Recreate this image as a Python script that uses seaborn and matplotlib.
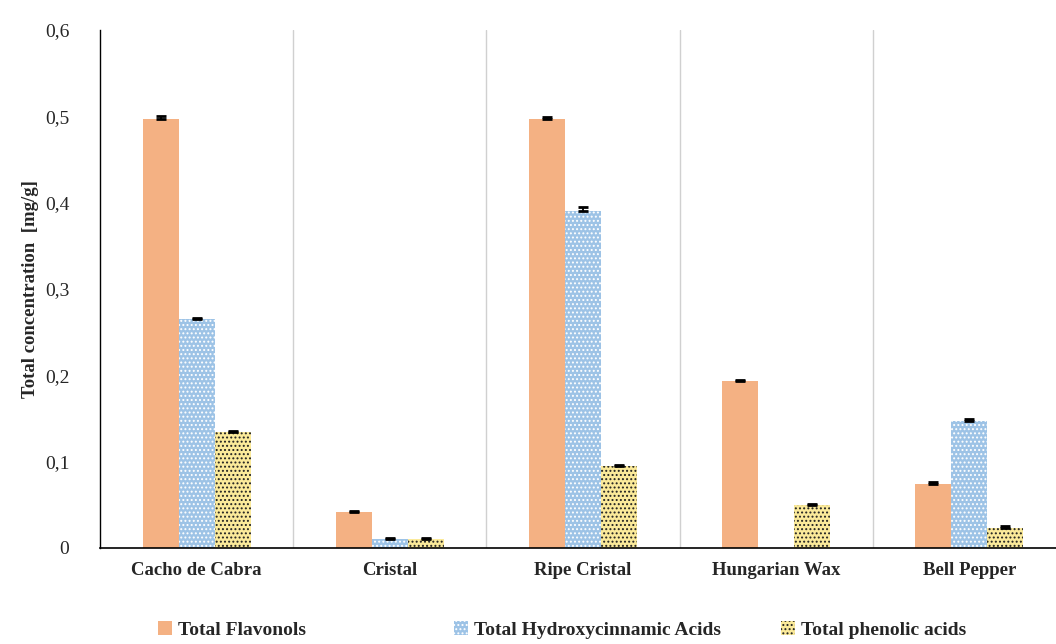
import numpy as np
import pandas as pd
import matplotlib
matplotlib.use("Agg")
import matplotlib.pyplot as plt
import seaborn as sns
from matplotlib.patches import Patch

# data
cultivars = ["Cacho de Cabra", "Cristal", "Ripe Cristal", "Hungarian Wax", "Bell Pepper"]
series = ["Total Flavonols", "Total Hydroxycinnamic Acids", "Total phenolic acids"]
flavonols = [0.497, 0.042, 0.497, 0.193, 0.074]
hydroxy = [0.265, 0.011, 0.390, 0.0, 0.147]
phenolic = [0.134, 0.011, 0.095, 0.050, 0.023]
flav_err = [0.003, 0.001, 0.002, 0.002, 0.002]
hydr_err = [0.001, 0.001, 0.005, 0.0, 0.002]
phen_err = [0.001, 0.001, 0.001, 0.001, 0.002]

fills = ["#F4B183", "#9DC3E6", "#FBEA9A"]
hatch_col = ["#F4B183", "white", "#222222"]
hatches = [None, "....", "...."]

rows = []
for s, vals, errs in zip(series, [flavonols, hydroxy, phenolic], [flav_err, hydr_err, phen_err]):
    for c, v, e in zip(cultivars, vals, errs):
        rows.append({"Cultivar": c, "Series": s, "Value": v, "Err": e})
df = pd.DataFrame(rows)

sns.set_style("white")
plt.rcParams["font.family"] = ["Liberation Serif", "DejaVu Serif"]
plt.rcParams["hatch.linewidth"] = 0.9

fig = plt.figure(figsize=(10.56, 6.44), dpi=100)
ax = fig.add_axes([100 / 1056, 1 - 548 / 644, 966 / 1056, 518 / 644])

sns.barplot(data=df, x="Cultivar", y="Value", hue="Series", order=cultivars,
            hue_order=series, palette=fills, errorbar=None, width=0.56,
            saturation=1, ax=ax, legend=False)

# style bars and add error bars series by series
bar_containers = list(ax.containers)
for i, cont in enumerate(bar_containers):
    sub = df[df["Series"] == series[i]].set_index("Cultivar").loc[cultivars]
    xs, ys = [], []
    for patch in cont:
        patch.set_linewidth(0)
        if hatches[i]:
            patch.set_hatch(hatches[i])
            patch.set_edgecolor(hatch_col[i])
        xs.append(patch.get_x() + patch.get_width() / 2)
        ys.append(patch.get_height())
    errs = sub["Err"].values
    keep = np.array(ys) > 0
    up = errs[keep]
    ax.errorbar(np.array(xs)[keep], np.array(ys)[keep],
                yerr=[np.zeros_like(up), up],
                fmt="none", ecolor="black", elinewidth=1.3, capsize=3.5, capthick=2)

# light separators between cultivars
for k in range(len(cultivars) - 1):
    ax.axvline(k + 0.5, color="#d0d0d0", lw=1, zorder=0)

ax.set_xlim(-0.5, len(cultivars) - 0.5)
ax.set_ylim(0, 0.6)
yt = np.arange(0, 0.61, 0.1)
ax.set_yticks(yt)
ax.set_yticklabels(["0"] + [f"{t:.1f}".replace(".", ",") for t in yt[1:]], fontsize=14)
ax.tick_params(axis="y", length=0, pad=22)
ax.tick_params(axis="x", length=0, pad=10)
for lab in ax.get_xticklabels():
    lab.set_fontweight("bold")
    lab.set_fontsize(13.5)
ax.set_xlabel("")
ax.set_ylabel("Total concentration  [mg/g]", fontsize=13.5, fontweight="bold", labelpad=4)

for side in ["top", "right"]:
    ax.spines[side].set_visible(False)
ax.spines["left"].set_color("black")
ax.spines["bottom"].set_color("black")
ax.spines["left"].set_linewidth(1)
ax.spines["bottom"].set_linewidth(1.2)

# one legend entry per slot, placed where the reference has them
legend_x = [150 / 1056, 446 / 1056, 773 / 1056]
for i, s in enumerate(series):
    h = Patch(facecolor=fills[i], hatch=hatches[i],
              edgecolor=hatch_col[i], linewidth=0, label=s)
    fig.legend(handles=[h], loc="lower left", frameon=False,
               bbox_to_anchor=(legend_x[i], -0.004), borderaxespad=0.2,
               borderpad=0.2, handlelength=0.75, handleheight=0.75,
               handletextpad=0.3,
               prop={"family": "Liberation Serif", "weight": "bold", "size": 14})

fig.savefig("out.png", dpi=100)
